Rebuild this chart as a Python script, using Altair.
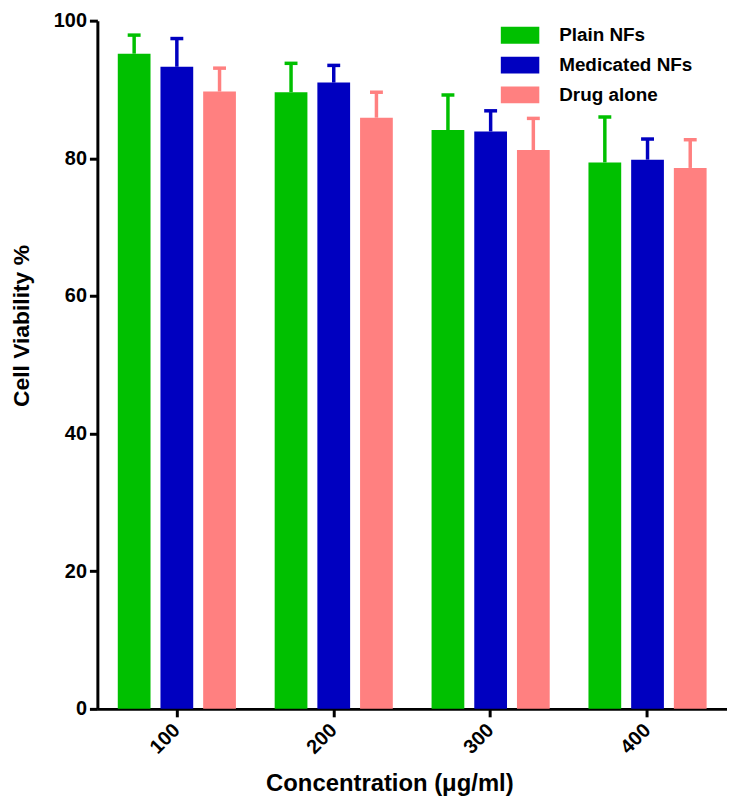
import altair as alt
import pandas as pd

# ---- data ----
concentrations = ["100", "200", "300", "400"]
groups = ["Plain NFs", "Medicated NFs", "Drug alone"]
plain_mean = [95.2, 89.6, 84.1, 79.4]
plain_err = [2.7, 4.2, 5.1, 6.6]
medicated_mean = [93.3, 91.0, 83.9, 79.8]
medicated_err = [4.1, 2.5, 3.0, 3.0]
drug_mean = [89.7, 85.9, 81.2, 78.6]
drug_err = [3.4, 3.7, 4.6, 4.1]
colors = ["#00C000", "#0000C0", "#FF8080"]

rows = []
for g, means, errs in zip(groups,
                          [plain_mean, medicated_mean, drug_mean],
                          [plain_err, medicated_err, drug_err]):
    for c, m, e in zip(concentrations, means, errs):
        rows.append({"Concentration": c, "Group": g, "Viability": m, "Upper": m + e})
df = pd.DataFrame(rows)

FONT = "Arial, Liberation Sans, Helvetica, sans-serif"

x_axis = alt.Axis(
    labelAngle=-45, labelAlign="right", labelBaseline="middle",
    labelFontSize=20, labelPadding=10,
    titleFontSize=24, titleX=294, titleY=82, titleBaseline="alphabetic",
    titleAnchor="start", titleAlign="center",
)
x_enc = alt.X("Concentration:N", sort=concentrations,
              scale=alt.Scale(paddingInner=0.247, paddingOuter=0.13),
              axis=x_axis, title="Concentration (μg/ml)")
xoff_enc = alt.XOffset("Group:N", sort=groups,
                       scale=alt.Scale(paddingInner=0.233, paddingOuter=0))

y_scale = alt.Scale(domain=[0, 100], nice=False, zero=True)
y_axis = alt.Axis(values=[0, 20, 40, 60, 80, 100], labelFontSize=20,
                  labelPadding=3, titleFontSize=23, titleX=-69,
                  titleY=307, titleBaseline="alphabetic", titleAngle=270)

legend = alt.Legend(
    title=None, orient="none", legendX=406, legendY=0,
    symbolType="M-1,-0.436H1V0.436H-1Z", symbolSize=1521,
    symbolStrokeWidth=0, symbolOpacity=1,
    labelFontSize=19, labelFontWeight="bold", labelFont=FONT,
    labelColor="black", labelOffset=20, clipHeight=29.5, rowPadding=0,
    padding=0,
)
color_enc = alt.Color("Group:N", sort=groups,
                      scale=alt.Scale(domain=groups, range=colors),
                      legend=legend)

base = alt.Chart(df)

bars = base.mark_bar().encode(
    x=x_enc, xOffset=xoff_enc,
    y=alt.Y("Viability:Q", scale=y_scale, axis=y_axis, title="Cell Viability %"),
    color=color_enc,
)

err_rule = base.mark_rule(strokeWidth=3.5).encode(
    x=x_enc, xOffset=xoff_enc,
    y=alt.Y("Viability:Q", scale=y_scale, axis=y_axis, title="Cell Viability %"),
    y2="Upper:Q",
    color=color_enc,
)

err_cap = base.mark_tick(size=13, thickness=3.5, opacity=1).encode(
    x=x_enc, xOffset=xoff_enc,
    y=alt.Y("Upper:Q", scale=y_scale, axis=y_axis, title="Cell Viability %"),
    color=color_enc,
)

chart = alt.layer(err_rule, err_cap, bars).properties(
    width=634, height=693,
    autosize=alt.AutoSizeParams(type="none"),
    padding={"left": 90, "top": 10, "right": 0, "bottom": 87},
).configure_view(stroke=None).configure_axis(
    grid=False, domainColor="black", domainWidth=3,
    tickColor="black", tickWidth=3, tickSize=8,
    labelFont=FONT, labelFontWeight="bold", labelColor="black",
    titleFont=FONT, titleFontWeight="bold", titleColor="black",
)

chart.save("out.html", embed_options={"renderer": "svg", "actions": False})
